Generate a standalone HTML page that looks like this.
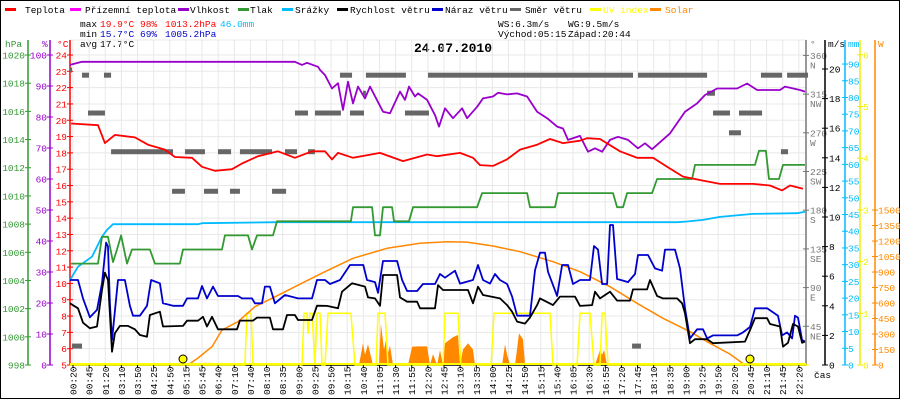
<!DOCTYPE html>
<html><head><meta charset="utf-8"><style>
html,body{margin:0;padding:0;background:#fff;}
svg{display:block;font-family:"Liberation Mono",monospace;}
</style></head><body>
<svg id="chart" width="900" height="400" viewBox="0 0 900 400" xmlns="http://www.w3.org/2000/svg">
<rect x="0.5" y="0.5" width="899" height="398" fill="#fff" stroke="#000"/>
<g id="legend" font-size="9.5"></g>
<g font-size="9.5">
<text x="80" y="27" fill="#000">max</text><text x="100" y="27" fill="#f00">19.9°C</text><text x="140" y="27" fill="#f00">98%</text><text x="165" y="27" fill="#f00">1013.2hPa</text><text x="220" y="27" fill="#0bf">46.0mm</text>
<text x="80" y="37" fill="#000">min</text><text x="100" y="37" fill="#00c">15.7°C</text><text x="140" y="37" fill="#00c">69%</text><text x="165" y="37" fill="#00c">1005.2hPa</text>
<text x="80" y="47" fill="#000">avg</text><text x="100" y="47" fill="#000">17.7°C</text>
<text x="498" y="27" fill="#000">WS:6.3m/s</text><text x="568" y="27" fill="#000">WG:9.5m/s</text>
<text x="498" y="37" fill="#000">Východ:05:15</text><text x="568" y="37" fill="#000">Západ:20:44</text>
</g>
<text x="414" y="52" font-size="13" font-weight="bold" fill="#000">24.07.2010</text>
<g id="grid"></g>
<g id="axes"></g>
<g id="series"></g>
<g id="xlabels" font-size="9.5"></g>
<text x="814" y="378" font-size="9.5" fill="#000">čas</text>
</svg>
<script>
const timeLabels=["00:20","00:45","01:20","03:10","03:50","04:25","04:50","05:15","05:45","06:40","07:10","07:40","08:10","08:35","09:00","09:25","09:50","10:15","10:40","11:05","11:30","11:55","12:20","12:45","13:10","13:35","14:00","14:25","14:50","15:15","15:40","16:05","16:30","16:55","17:20","17:45","18:10","18:35","19:00","19:25","19:50","20:20","20:45","21:10","21:45","22:20"];
const tempT=[-0.12,1.55,1.98,2.6,3.84,4.65,5.7,6.32,7.38,8.0,8.8,9.86,10.48,11.47,12.71,13.76,14.82,15.62,16.06,16.43,17.36,19.03,20.46,21.95,22.57,23.99,24.8,25.23,26.04,26.9,27.71,28.77,29.57,30.38,31.43,31.87,32.67,33.91,34.97,35.96,36.83,37.82,39.06,40.11,42.16,43.21,43.96,44.45,45.26];
const tempV=[19.8,19.7,18.6,19.1,18.95,18.5,18.2,17.75,17.7,17.15,16.9,17.0,17.35,17.8,18.1,17.7,18.1,18.1,17.6,18.0,17.7,18.0,17.5,17.9,17.8,18.0,17.7,17.25,17.2,17.6,18.2,18.5,18.85,18.6,18.75,18.9,18.85,18.1,17.7,17.7,17.15,16.55,16.3,16.1,16.1,16.0,15.7,16.0,15.8];
const humT=[-0.19,0.56,13.76,14.2,14.51,15.19,15.31,15.62,16.06,16.43,16.74,17.05,17.36,17.67,18.1,18.41,19.22,19.65,20.27,20.58,20.83,21.2,21.39,21.95,22.44,22.69,23.06,23.56,24.12,24.43,25.05,25.42,26.04,26.35,26.91,27.53,28.15,28.77,29.39,30.01,30.38,30.69,31.43,31.93,32.36,32.8,33.29,33.79,34.41,35.03,35.46,35.9,37.01,37.94,38.69,39.18,39.93,41.17,41.79,42.41,43.83,44.14,45.07,45.38];
const humV=[96.8,97.8,97.8,96.8,97.5,96.2,95.2,93.5,89.2,90.9,82.3,91.4,84.4,89.8,86.0,89.8,81.7,81.2,88.2,85.5,89.8,86.6,87.6,85.5,80.6,76.9,82.8,79.6,82.8,79.6,83.3,86.0,86.6,87.8,87.3,87.6,86.6,81.7,79.6,76.9,76.3,72.6,73.9,68.8,69.9,68.8,72.6,73.6,72.6,69.9,71.5,69.6,74.7,81.7,84.4,87.1,89.2,89.2,90.8,88.7,88.7,89.8,88.7,88.2];
const presT=[-0.12,1.55,1.8,2.17,2.48,2.73,2.98,3.35,3.66,4.77,5.08,6.63,6.82,9.24,9.42,10.85,11.1,11.41,12.4,12.65,17.23,17.36,18.54,18.72,19.03,19.22,19.78,19.9,20.83,21.08,25.05,25.36,28.15,28.33,29.88,30.07,33.48,33.73,34.1,34.35,35.9,36.21,38.38,38.56,42.28,42.53,42.96,43.15,43.77,44.02,45.38];
const presV=[1005.2,1005.2,1007.1,1007.1,1005.3,1006.2,1007.2,1005.2,1006.2,1006.2,1005.2,1005.2,1006.2,1006.2,1007.2,1007.2,1006.2,1007.2,1007.2,1008.2,1008.2,1009.2,1009.2,1007.2,1007.2,1009.2,1009.2,1008.2,1008.2,1009.2,1009.2,1010.2,1010.2,1009.2,1009.2,1010.2,1010.2,1009.2,1009.2,1010.2,1010.2,1011.2,1011.2,1012.2,1012.2,1013.2,1013.2,1011.2,1011.2,1012.2,1012.2];
const rainT=[-0.19,0.31,1.18,1.8,2.11,2.48,7.75,8.0,12.71,37.45,38.07,39.06,40.11,42.16,44.89,45.38];
const rainV=[25.4,29.4,32.4,38.4,40.4,42.1,42.1,42.4,42.7,42.7,42.9,43.4,44.3,45.2,45.4,45.8];
const windT=[-0.19,0.31,0.62,1.05,1.49,1.8,1.98,2.17,2.42,2.6,2.91,3.41,3.84,4.15,4.59,4.77,5.39,5.58,6.82,7.07,7.75,8.06,8.31,8.62,8.99,10.17,10.35,11.16,11.41,12.21,12.4,13.02,13.27,13.76,13.95,14.82,15.13,15.75,16.43,16.68,17.3,18.1,18.29,18.72,19.03,19.22,20.09,20.27,20.71,21.33,21.51,22.44,22.63,22.94,24.49,24.8,25.11,25.42,26.47,26.91,27.22,27.53,28.02,28.33,28.77,28.95,29.76,30.19,31.12,31.43,32.18,32.36,32.67,33.29,33.73,34.53,34.72,35.59,35.77,36.21,36.58,37.45,37.76,37.94,38.25,38.56,39.31,39.68,41.66,41.97,42.28,43.03,43.21,43.83,44.02,44.33,44.64,44.95,45.2,45.38];
const windV=[4.17,3.83,2.86,2.48,2.6,5.07,6.24,5.74,0.9,2.14,2.64,2.64,2.41,2.03,1.91,3.38,3.6,2.6,2.64,2.99,2.99,3.26,2.6,3.26,2.41,2.41,3.0,3.0,3.2,3.2,2.41,2.41,3.38,3.38,3.04,3.04,4.01,3.99,3.83,4.95,5.52,5.3,4.57,4.5,4.0,6.08,6.08,4.57,4.28,4.28,3.83,3.83,5.4,5.07,5.07,4.17,5.29,4.73,4.5,4.05,3.6,2.93,2.8,3.2,4.05,4.5,4.05,4.62,4.62,3.99,4.05,4.95,4.5,4.95,4.35,4.35,5.11,5.11,5.74,4.66,4.5,4.5,4.17,3.49,1.47,1.74,1.74,1.47,1.58,2.36,3.16,3.16,2.77,2.6,1.24,1.5,2.77,2.6,1.5,1.58];
const gustT=[-0.19,0.31,0.62,1.05,1.49,1.8,2.05,2.17,2.29,2.42,2.79,3.22,3.53,3.72,4.15,4.59,4.84,5.39,5.58,6.2,6.82,7.07,7.75,8.0,8.31,8.68,8.99,10.23,10.48,11.1,11.28,11.72,11.9,12.21,12.52,13.14,13.95,14.82,15.13,15.62,15.93,16.55,17.17,18.0,18.23,18.72,18.91,19.22,20.09,20.4,20.71,21.33,21.7,22.44,22.75,23.06,23.68,23.99,24.8,25.11,25.42,25.85,26.16,26.47,26.91,27.22,27.53,28.33,28.64,28.95,29.26,29.45,29.76,30.01,30.32,30.69,31.0,31.43,32.05,32.3,32.55,32.8,33.11,33.29,33.48,33.73,34.1,34.41,34.84,35.03,35.65,36.08,36.52,36.7,37.32,37.63,37.94,38.25,38.69,39.06,39.31,39.68,41.17,41.54,41.97,42.28,43.03,43.71,43.96,44.27,44.58,44.76,44.95,45.2,45.38];
const gustV=[5.74,5.74,4.5,3.22,3.72,5.52,8.27,8.0,4.17,1.69,5.74,5.74,4.0,3.33,3.33,4.0,5.74,5.52,4.17,4.0,4.0,4.5,4.5,5.34,4.5,5.3,4.66,4.66,4.5,4.5,4.17,4.17,5.3,5.3,4.17,4.73,4.5,4.5,5.74,5.74,5.47,5.74,6.76,6.76,5.74,5.6,4.88,7.03,7.03,5.74,5.0,5.0,5.47,5.47,6.15,5.9,6.37,5.5,5.74,6.76,5.74,5.5,6.15,5.74,5.47,4.62,3.33,3.33,6.4,7.59,7.59,6.3,5.4,4.66,6.76,6.76,5.47,5.74,5.74,8.04,7.8,5.47,5.47,9.46,9.46,5.81,5.7,5.6,6.15,7.43,7.43,6.53,6.37,7.8,7.8,6.53,3.83,1.8,2.41,2.41,1.8,2.0,2.0,2.2,2.57,3.83,3.83,3.33,2.0,2.2,1.8,3.33,3.2,1.69,1.58];
const solarCurveT=[7.13,7.75,8.62,9.24,10.23,11.28,12.96,14.38,15.62,17.36,19.47,21.51,23.19,24.43,26.04,27.71,29.76,31.43,32.05,33.29,34.97,36.58,38.25,39.49,40.73,41.66];
const solarCurveV=[0,68,177,339,419,564,694,806,903,1033,1130,1178,1194,1190,1152,1097,1000,903,855,758,597,452,322,210,106,0];
const solarT=[8.06,8.12,8.68,8.74,17.73,17.98,18.1,18.29,18.6,18.97,19.09,19.28,19.4,19.53,19.65,19.84,20.77,21.02,21.39,21.95,22.13,22.32,22.57,22.75,22.94,23.06,23.56,23.87,23.99,24.18,24.49,24.8,24.92,26.6,26.78,26.91,27.1,27.4,27.65,27.9,28.02,32.36,32.67,32.8,32.92,33.11];
const solarV=[0,20,20,0,0,210,100,200,0,0,400,150,240,120,190,0,0,177,180,180,0,106,0,145,0,210,270,290,0,150,210,150,0,0,200,100,0,0,306,250,0,0,145,100,145,0];
const uvT=[-0.2,10.66,10.79,11.04,11.16,14.2,14.32,14.51,14.57,14.69,14.82,15.0,15.13,15.31,15.44,15.62,15.81,17.23,17.48,18.79,18.91,19.34,19.53,22.94,23.06,23.87,24.05,25.92,26.1,29.57,29.76,31.25,31.43,32.05,32.3,32.67,32.8,32.98,33.17,45.6];
const uvV=[0,0,1,1,0,0,1,1,0.6,1,1,0,1,1,0,0,1,1,0,0,1,1,0,0,1,1,0,0,1,1,0,0,1,1,0,0,1,1,0,0];
const dirT0=[-0.19,-0.06,0.56,1.92,0.93,2.36,6.14,6.94,8.12,8.99,9.73,10.35,12.34,13.14,13.76,14.57,15.0,16.55,17.17,17.98,18.16,20.58,22.01,35.03,39.31,39.68,40.67,41.29,42.65,43.89,44.27,34.66];
const dirT1=[-0.06,0.56,0.99,2.36,1.98,6.2,6.94,8.18,8.99,9.8,10.35,12.34,13.21,13.89,14.57,15.0,16.61,17.3,18.04,18.16,20.64,22.07,34.72,39.31,39.8,40.73,41.41,42.72,43.96,44.33,45.57,35.21];
const dirDeg=[343,22,337,337,293,248,202,248,202,248,202,248,202,248,293,248,293,337,293,316,337,293,337,337,316,293,270,293,337,248,337,22];
const sunEventT=[6.82,41.97];

const NS="http://www.w3.org/2000/svg";
const X0=73,DX=16.13,YB=365;
function xT(t){return X0+t*DX;}
function yTemp(v){return YB-(v-5)*16.316;}
function yHum(v){return YB-v*3.1;}
function yPres(v){return YB-(v-998)*14.09;}
function yRain(v){return YB-v*3.344;}
function yWind(v){return YB-v*14.8;}
function yUV(v){return YB-v*51.7;}
function ySolar(v){return YB-v*0.1033;}
function yDir(v){return YB-v*0.86;}
function mk(tag,attrs,parent){const e=document.createElementNS(NS,tag);for(const k in attrs)e.setAttribute(k,attrs[k]);parent.appendChild(e);return e;}
const grid=document.getElementById('grid'),axes=document.getElementById('axes'),series=document.getElementById('series'),xl=document.getElementById('xlabels'),lg=document.getElementById('legend');

const legItems=[["Teplota","#f00",5,25],["Přízemní teplota","#f0f",70,85],["Vlhkost","#90c",178,190],["Tlak","#393",238,250],["Srážky","#0bf",282,295],["Rychlost větru","#000",337,350],["Náraz větru","#00c",432,445],["Směr větru","#666",510,525],["UV index","#ff0",590,603],["Solar","#f80",650,665]];
legItems.forEach(it=>{
  const g=mk('g',{},lg);
  
  
  mk('rect',{x:it[2],y:8,width:11,height:3,fill:it[1]},g);
  const t=mk('text',{x:it[3],y:13,fill:(it[0]==="UV index"||it[0]==="Solar")?it[1]:"#000"},g);t.textContent=it[0];
});

for(let i=0;i<timeLabels.length;i++){
  const l=mk('line',{x1:xT(i),x2:xT(i),y1:40,y2:YB,stroke:"#e8e8e8","stroke-width":1},grid);
  
  
}
for(let c=6;c<=24;c++){
  const l=mk('line',{x1:70,x2:806,y1:yTemp(c),y2:yTemp(c),stroke:"#e8e8e8","stroke-width":1},grid);
  
  
}
mk('line',{x1:70,x2:806,y1:40,y2:40,stroke:"#e8e8e8"},grid);

function axis(name,x,color,ticks,yf,labelX,anchor,fmt,sub){
  const g=mk('g',{},axes);
  
  
  mk('line',{x1:x,x2:x,y1:40,y2:YB,stroke:color,"stroke-width":1.5},g);
  ticks.forEach((v,i)=>{
    const y=yf(v);
    mk('line',{x1:x-3,x2:x+3,y1:y,y2:y,stroke:color,"stroke-width":1},g);
    const t=mk('text',{x:labelX,y:y+3.5,fill:color,"font-size":9.5,"text-anchor":anchor},g);
    t.textContent=fmt(v);
    if(sub){const s=mk('text',{x:labelX,y:y+13,fill:color,"font-size":9.5,"text-anchor":anchor},g);s.textContent=sub[i];}
  });
}
const presTicks=[998,1000,1002,1004,1006,1008,1010,1012,1014,1016,1018,1020];
const humTicks=[0,10,20,30,40,50,60,70,80,90,100];
const tempTicks=[5,6,7,8,9,10,11,12,13,14,15,16,17,18,19,20,21,22,23,24];
const dirTicks=[45,90,135,180,225,270,315,360];
const dirNames=["NE","E","SE","S","SW","W","NW","N"];
const windTicks=[0,2,4,6,8,10,12,14,16,18,20];
const rainTicks=[0,5,10,15,20,25,30,35,40,45,50,55,60,65,70,75,80,85,90];
const uvTicks=[0,1,2,3,4,5,6];
const solarTicks=[0,150,300,450,600,750,900,1050,1200,1350,1500];
axis('pressure-axis',28,"#393",presTicks,yPres,25,"end",v=>v);
axis('humidity-axis',50,"#90c",humTicks,yHum,47,"end",v=>v);
axis('temperature-axis',70,"#f00",tempTicks,yTemp,67,"end",v=>v);
axis('wind-direction-axis',806,"#777",dirTicks,yDir,810,"start",v=>v,dirNames);
axis('wind-speed-axis',825,"#000",windTicks,yWind,829,"start",v=>v);
axis('rain-axis',845,"#0bf",rainTicks,yRain,848,"start",v=>v);
axis('uv-axis',860,"#ee0",uvTicks,yUV,863,"start",v=>v);
axis('solar-axis',875,"#f80",solarTicks,ySolar,878,"start",v=>v);
[["hPa",5,"#393"],["%",42,"#90c"],["°C",57,"#f00"],["°",810,"#777"],["m/s",828,"#000"],["mm",848,"#0bf"],["W",878,"#f80"]].forEach(u=>{
  const t=mk('text',{x:u[1],y:47,fill:u[2],"font-size":9.5},axes);
  
  
  t.textContent=u[0];
});
mk('line',{x1:70,x2:806,y1:YB,y2:YB,stroke:"#000","stroke-width":1.5},axes);

timeLabels.forEach((lab,i)=>{
  const x=xT(i);
  mk('line',{x1:x,x2:x,y1:YB,y2:YB+3,stroke:"#000"},xl);
  const t=mk('text',{x:0,y:0,fill:"#000",transform:`translate(${x+3.5},395) rotate(-90)`},xl);
  
  
  t.textContent=lab;
});

function pts(T,V,yf){return T.map((t,i)=>xT(t).toFixed(1)+","+yf(V[i]).toFixed(1)).join(" ");}
const sArea=mk('polygon',{points:xT(solarT[0])+","+YB+" "+pts(solarT,solarV,ySolar)+" "+xT(solarT[solarT.length-1])+","+YB,fill:"#f80"},series);


const uvL=mk('polyline',{points:pts(uvT,uvV,yUV),fill:"none",stroke:"#ff0","stroke-width":1.5},series);


dirDeg.forEach((d,i)=>{
  const r=mk('rect',{x:xT(dirT0[i]),y:yDir(d)-2.5,width:Math.max(1,xT(dirT1[i])-xT(dirT0[i])),height:5,fill:"#666"},series);
  
  
});
function line(name,T,V,yf,color,w){
  const l=mk('polyline',{points:pts(T,V,yf),fill:"none",stroke:color,"stroke-width":w,"stroke-linejoin":"round"},series);
  
  
}
line('solar-theoretical-line',solarCurveT,solarCurveV,ySolar,"#f80",1.5);
line('rain-line',rainT,rainV,yRain,"#0bf",1.8);
line('pressure-line',presT,presV,yPres,"#393",1.8);
line('wind-gust-line',gustT,gustV,yWind,"#00c",1.8);
line('wind-speed-line',windT,windV,yWind,"#000",1.8);
line('humidity-line',humT,humV,yHum,"#90c",1.8);
line('temperature-line',tempT,tempV,yTemp,"#f00",1.8);
const base=mk('line',{x1:70,x2:806,y1:YB-1,y2:YB-1,stroke:"#ff0","stroke-width":2},series);


sunEventT.forEach(t=>{
  const c=mk('circle',{cx:xT(t),cy:359,r:4,fill:"#ff0",stroke:"#000","stroke-width":1},series);
  
  
});
</script>
</body></html>
